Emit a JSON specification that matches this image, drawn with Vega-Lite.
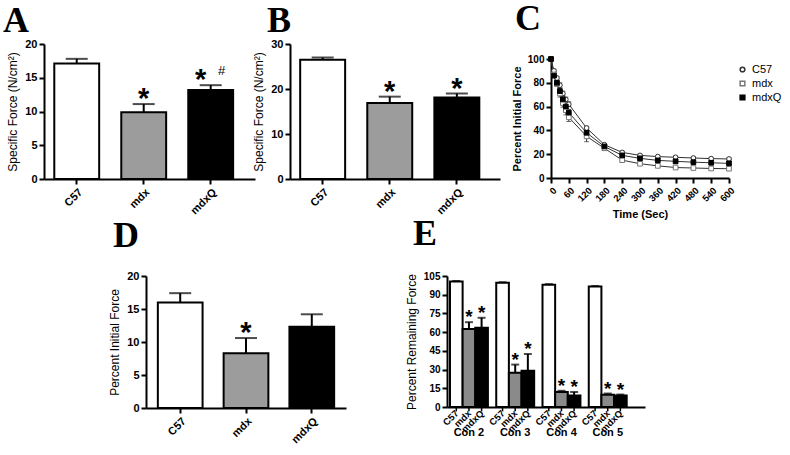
{
  "$schema": "https://vega.github.io/schema/vega-lite/v6.json",
  "padding": {"left": 3, "top": 1, "right": 5, "bottom": 0},
  "spacing": -5,
  "resolve": {"scale": {"fill": "independent", "shape": "independent", "stroke": "independent"}},
  "vconcat": [
    {
      "bounds": "flush",
      "spacing": 5,
      "resolve": {"scale": {"fill": "independent", "shape": "independent", "stroke": "independent"}},
      "hconcat": [
        {
          "width": 211, "height": 135,
          "title": {"text": "A", "dx": -41, "offset": -30, "baseline": "alphabetic"},
          "data": {"values": [
            {"g": "C57", "v": 17.1, "hi": 17.8, "star": ""},
            {"g": "mdx", "v": 9.9, "hi": 11.1, "star": "*"},
            {"g": "mdxQ", "v": 13.2, "hi": 13.9, "star": "*", "hash": "#"}
          ]},
          "encoding": {"x": {"field": "g", "type": "nominal", "sort": null, "scale": {"paddingInner": 0.33, "paddingOuter": 0.24, "align": 0.32}, "axis": {"title": null, "labelAngle": -45}}},
          "layer": [
            {"mark": {"type": "rule", "strokeWidth": 2, "color": "black"}, "encoding": {"y": {"field": "v", "type": "quantitative", "title": "Specific Force (N/cm²)", "axis": {"values": [0, 5, 10, 15, 20], "tickCount": 20, "labelOverlap": false}}, "y2": {"field": "hi"}}},
            {"mark": {"type": "tick", "thickness": 2, "size": 22, "color": "black"}, "encoding": {"y": {"field": "hi", "type": "quantitative", "title": "Specific Force (N/cm²)", "axis": {"values": [0, 5, 10, 15, 20], "tickCount": 20, "labelOverlap": false}}}},
            {"mark": {"type": "bar", "stroke": "black", "strokeWidth": 2}, "encoding": {
              "y": {"field": "v", "type": "quantitative", "title": "Specific Force (N/cm²)", "scale": {"domain": [0, 20], "nice": false}, "axis": {"values": [0, 5, 10, 15, 20], "tickCount": 20, "labelOverlap": false}},
              "fill": {"field": "g", "type": "nominal", "scale": {"domain": ["C57", "mdx", "mdxQ"], "range": ["white", "#9c9c9c", "black"]}, "legend": null}}},
            {"transform": [{"filter": "datum.hash == null"}], "mark": {"type": "text", "fontSize": 29, "fontWeight": "bold", "dy": 4, "baseline": "alphabetic"}, "encoding": {"y": {"field": "hi", "type": "quantitative", "title": "Specific Force (N/cm²)", "axis": {"values": [0, 5, 10, 15, 20], "tickCount": 20, "labelOverlap": false}}, "text": {"field": "star"}}},
            {"transform": [{"filter": "datum.hash != null"}], "mark": {"type": "text", "fontSize": 29, "fontWeight": "bold", "dy": 4, "dx": -10, "baseline": "alphabetic"}, "encoding": {"y": {"field": "hi", "type": "quantitative", "title": "Specific Force (N/cm²)", "axis": {"values": [0, 5, 10, 15, 20], "tickCount": 20, "labelOverlap": false}}, "text": {"field": "star"}}},
            {"transform": [{"filter": "datum.hash != null"}], "mark": {"type": "text", "fontSize": 13, "fontWeight": "normal", "dy": -10, "dx": 11, "baseline": "alphabetic", "color": "black"}, "encoding": {"y": {"field": "hi", "type": "quantitative", "title": "Specific Force (N/cm²)", "axis": {"values": [0, 5, 10, 15, 20], "tickCount": 20, "labelOverlap": false}}, "text": {"field": "hash"}}}
          ]
        },
        {"width": 25, "height": 5, "data": {"values": []}, "mark": "point", "encoding": {}},
        {
          "width": 210, "height": 135,
          "title": {"text": "B", "dx": -23, "offset": -30, "baseline": "alphabetic"},
          "data": {"values": [
            {"g": "C57", "v": 26.5, "hi": 27.0, "star": ""},
            {"g": "mdx", "v": 16.9, "hi": 18.3, "star": "*"},
            {"g": "mdxQ", "v": 18.1, "hi": 19.0, "star": "*"}
          ]},
          "encoding": {"x": {"field": "g", "type": "nominal", "sort": null, "scale": {"paddingInner": 0.33, "paddingOuter": 0.23, "align": 0.33}, "axis": {"title": null, "labelAngle": -45}}},
          "layer": [
            {"mark": {"type": "rule", "strokeWidth": 2, "color": "black"}, "encoding": {"y": {"field": "v", "type": "quantitative", "title": "Specific Force (N/cm²)", "axis": {"values": [0, 10, 20, 30], "tickCount": 20, "labelOverlap": false}}, "y2": {"field": "hi"}}},
            {"mark": {"type": "tick", "thickness": 2, "size": 22, "color": "black"}, "encoding": {"y": {"field": "hi", "type": "quantitative", "title": "Specific Force (N/cm²)", "axis": {"values": [0, 10, 20, 30], "tickCount": 20, "labelOverlap": false}}}},
            {"mark": {"type": "bar", "stroke": "black", "strokeWidth": 2}, "encoding": {
              "y": {"field": "v", "type": "quantitative", "title": "Specific Force (N/cm²)", "scale": {"domain": [0, 30], "nice": false}, "axis": {"values": [0, 10, 20, 30], "tickCount": 20, "labelOverlap": false}},
              "fill": {"field": "g", "type": "nominal", "scale": {"domain": ["C57", "mdx", "mdxQ"], "range": ["white", "#9c9c9c", "black"]}, "legend": null}}},
            {"mark": {"type": "text", "fontSize": 29, "fontWeight": "bold", "dy": 4, "baseline": "alphabetic"}, "encoding": {"y": {"field": "hi", "type": "quantitative", "title": "Specific Force (N/cm²)", "axis": {"values": [0, 10, 20, 30], "tickCount": 20, "labelOverlap": false}}, "text": {"field": "star"}}}
          ]
        },
        {"width": 41, "height": 5, "data": {"values": []}, "mark": "point", "encoding": {}},
        {
          "width": 178, "height": 134,
          "title": {"text": "C", "dx": -36, "offset": -22, "baseline": "alphabetic"},
          "data": {"values": [
            {"t": 0, "g": "C57", "v": 100, "e": 0.5}, {"t": 10, "g": "C57", "v": 90, "e": 1.5}, {"t": 20, "g": "C57", "v": 84, "e": 1.5}, {"t": 30, "g": "C57", "v": 78, "e": 2}, {"t": 40, "g": "C57", "v": 71, "e": 2}, {"t": 50, "g": "C57", "v": 66, "e": 2}, {"t": 60, "g": "C57", "v": 62, "e": 2}, {"t": 120, "g": "C57", "v": 42, "e": 1.5}, {"t": 180, "g": "C57", "v": 28, "e": 1}, {"t": 240, "g": "C57", "v": 21.5, "e": 1}, {"t": 300, "g": "C57", "v": 19, "e": 1}, {"t": 360, "g": "C57", "v": 18, "e": 1}, {"t": 420, "g": "C57", "v": 17.4, "e": 1}, {"t": 480, "g": "C57", "v": 16.8, "e": 1}, {"t": 540, "g": "C57", "v": 16.3, "e": 1}, {"t": 600, "g": "C57", "v": 16, "e": 1},
            {"t": 0, "g": "mdx", "v": 100, "e": 0.5}, {"t": 10, "g": "mdx", "v": 87, "e": 2}, {"t": 20, "g": "mdx", "v": 79, "e": 2}, {"t": 30, "g": "mdx", "v": 71, "e": 3}, {"t": 40, "g": "mdx", "v": 63, "e": 3.5}, {"t": 50, "g": "mdx", "v": 57, "e": 4}, {"t": 60, "g": "mdx", "v": 51, "e": 3.5}, {"t": 120, "g": "mdx", "v": 35, "e": 4.5}, {"t": 180, "g": "mdx", "v": 25, "e": 1.5}, {"t": 240, "g": "mdx", "v": 15, "e": 1.5}, {"t": 300, "g": "mdx", "v": 12, "e": 1}, {"t": 360, "g": "mdx", "v": 10.2, "e": 1}, {"t": 420, "g": "mdx", "v": 8.8, "e": 1}, {"t": 480, "g": "mdx", "v": 8.4, "e": 1}, {"t": 540, "g": "mdx", "v": 8, "e": 1}, {"t": 600, "g": "mdx", "v": 7.8, "e": 1},
            {"t": 0, "g": "mdxQ", "v": 100, "e": 0.5}, {"t": 10, "g": "mdxQ", "v": 86, "e": 1.5}, {"t": 20, "g": "mdxQ", "v": 80, "e": 2}, {"t": 30, "g": "mdxQ", "v": 73, "e": 2}, {"t": 40, "g": "mdxQ", "v": 66, "e": 3}, {"t": 50, "g": "mdxQ", "v": 60, "e": 3}, {"t": 60, "g": "mdxQ", "v": 55, "e": 2.5}, {"t": 120, "g": "mdxQ", "v": 38, "e": 2}, {"t": 180, "g": "mdxQ", "v": 26.5, "e": 1}, {"t": 240, "g": "mdxQ", "v": 19, "e": 1.5}, {"t": 300, "g": "mdxQ", "v": 16.5, "e": 1.5}, {"t": 360, "g": "mdxQ", "v": 14.8, "e": 1.5}, {"t": 420, "g": "mdxQ", "v": 14, "e": 1.5}, {"t": 480, "g": "mdxQ", "v": 13.3, "e": 1.5}, {"t": 540, "g": "mdxQ", "v": 12.8, "e": 1.5}, {"t": 600, "g": "mdxQ", "v": 12.3, "e": 1.5}
          ]},
          "encoding": {
            "x": {"field": "t", "type": "quantitative", "scale": {"domain": [0, 600], "nice": false}, "axis": {"values": [0, 60, 120, 180, 240, 300, 360, 420, 480, 540, 600], "tickCount": 20, "labelAngle": -45, "labelFontSize": 9.5, "labelOverlap": false, "title": "Time (Sec)", "titleFontWeight": "bold", "titleFontSize": 11, "titlePadding": 6}}
          },
          "layer": [
            {"mark": {"type": "errorbar", "color": "#333", "ticks": {"size": 5}}, "encoding": {"y": {"field": "v", "type": "quantitative", "title": "Percent Initial Force", "axis": {"values": [0, 20, 40, 60, 80, 100], "tickCount": 20, "labelOverlap": false, "labelFontSize": 10, "titleFontWeight": "bold", "titleFontSize": 11}}, "yError": {"field": "e"}}},
            {"mark": {"type": "line", "color": "#333", "strokeWidth": 1}, "encoding": {"y": {"field": "v", "type": "quantitative", "title": "Percent Initial Force", "axis": {"values": [0, 20, 40, 60, 80, 100], "tickCount": 20, "labelOverlap": false, "labelFontSize": 10, "titleFontWeight": "bold", "titleFontSize": 11}}, "detail": {"field": "g"}}},
            {"mark": {"type": "point", "size": 22, "opacity": 1, "strokeWidth": 1}, "encoding": {
              "y": {"field": "v", "type": "quantitative", "title": "Percent Initial Force", "scale": {"domain": [0, 100], "nice": false, "range": [134, 15]}, "axis": {"values": [0, 20, 40, 60, 80, 100], "tickCount": 20, "labelOverlap": false, "labelFontSize": 10, "titleFontWeight": "bold", "titleFontSize": 11}},
              "shape": {"field": "g", "type": "nominal", "title": "grp", "scale": {"domain": ["C57", "mdx", "mdxQ"], "range": ["circle", "square", "square"]}, "legend": {"orient": "none", "legendX": 186, "legendY": 20, "title": null, "labelFontSize": 11, "labelFontWeight": "normal", "symbolSize": 22, "rowPadding": 2}},
              "fill": {"field": "g", "type": "nominal", "title": "grp", "scale": {"domain": ["C57", "mdx", "mdxQ"], "range": ["white", "white", "black"]}, "legend": {"orient": "none", "legendX": 186, "legendY": 20, "title": null, "labelFontSize": 11, "labelFontWeight": "normal", "symbolSize": 22, "rowPadding": 2}},
              "stroke": {"field": "g", "type": "nominal", "title": "grp", "scale": {"domain": ["C57", "mdx", "mdxQ"], "range": ["#333333", "#777777", "black"]}, "legend": {"orient": "none", "legendX": 186, "legendY": 20, "title": null, "labelFontSize": 11, "labelFontWeight": "normal", "symbolSize": 22, "rowPadding": 2}}
            }}
          ]
        }
      ]
    },
    {
      "bounds": "flush",
      "spacing": 101,
      "resolve": {"scale": {"fill": "independent", "shape": "independent", "stroke": "independent"}},
      "hconcat": [
        {"width": 1, "height": 5, "data": {"values": []}, "mark": "point", "encoding": {}},
        {
          "width": 200, "height": 132,
          "title": {"text": "D", "dx": -33, "offset": -13, "baseline": "alphabetic"},
          "data": {"values": [
            {"g": "C57", "v": 16.0, "hi": 17.4, "star": ""},
            {"g": "mdx", "v": 8.3, "hi": 10.6, "star": "*"},
            {"g": "mdxQ", "v": 12.3, "hi": 14.2, "star": ""}
          ]},
          "encoding": {"x": {"field": "g", "type": "nominal", "sort": null, "scale": {"paddingInner": 0.32, "paddingOuter": 0.18, "align": 0.5}, "axis": {"title": null, "labelAngle": -45}}},
          "layer": [
            {"mark": {"type": "rule", "strokeWidth": 2, "color": "black"}, "encoding": {"y": {"field": "v", "type": "quantitative", "title": "Percent Initial Force", "axis": {"values": [0, 5, 10, 15, 20], "tickCount": 20, "labelOverlap": false}}, "y2": {"field": "hi"}}},
            {"mark": {"type": "tick", "thickness": 2, "size": 22, "color": "black"}, "encoding": {"y": {"field": "hi", "type": "quantitative", "title": "Percent Initial Force", "axis": {"values": [0, 5, 10, 15, 20], "tickCount": 20, "labelOverlap": false}}}},
            {"mark": {"type": "bar", "stroke": "black", "strokeWidth": 2}, "encoding": {
              "y": {"field": "v", "type": "quantitative", "title": "Percent Initial Force", "scale": {"domain": [0, 20], "nice": false}, "axis": {"values": [0, 5, 10, 15, 20], "tickCount": 20, "labelOverlap": false}},
              "fill": {"field": "g", "type": "nominal", "scale": {"domain": ["C57", "mdx", "mdxQ"], "range": ["white", "#9c9c9c", "black"]}, "legend": null}}},
            {"mark": {"type": "text", "fontSize": 29, "fontWeight": "bold", "dy": 4, "baseline": "alphabetic"}, "encoding": {"y": {"field": "hi", "type": "quantitative", "title": "Percent Initial Force", "axis": {"values": [0, 5, 10, 15, 20], "tickCount": 20, "labelOverlap": false}}, "text": {"field": "star"}}}
          ]
        },
        {
          "width": 198, "height": 131,
          "title": {"text": "E", "dx": -34, "offset": -14, "baseline": "alphabetic"},
          "data": {"values": [
            {"c": "Con 2", "g": "C57", "v": 100.5, "hi": 101, "star": ""},
            {"c": "Con 2", "g": "mdx", "v": 62.5, "hi": 68, "star": "*"},
            {"c": "Con 2", "g": "mdxQ", "v": 63.5, "hi": 71.5, "star": "*"},
            {"c": "Con 3", "g": "C57", "v": 99.5, "hi": 100, "star": ""},
            {"c": "Con 3", "g": "mdx", "v": 27.5, "hi": 34, "star": "*"},
            {"c": "Con 3", "g": "mdxQ", "v": 29, "hi": 42.5, "star": "*"},
            {"c": "Con 4", "g": "C57", "v": 98, "hi": 98.5, "star": ""},
            {"c": "Con 4", "g": "mdx", "v": 12, "hi": 13, "star": "*"},
            {"c": "Con 4", "g": "mdxQ", "v": 9.3, "hi": 12, "star": "*"},
            {"c": "Con 5", "g": "C57", "v": 96.5, "hi": 97, "star": ""},
            {"c": "Con 5", "g": "mdx", "v": 9.8, "hi": 10.8, "star": "*"},
            {"c": "Con 5", "g": "mdxQ", "v": 9.2, "hi": 10, "star": "*"}
          ]},
          "encoding": {
            "x": {"field": "c", "type": "nominal", "sort": null, "scale": {"paddingInner": 0.18, "paddingOuter": 0.23, "align": 0.14}, "axis": {"title": null, "labelAngle": 0, "ticks": false, "labelPadding": 19, "labelFontSize": 11}},
            "xOffset": {"field": "g", "type": "nominal", "sort": ["C57", "mdx", "mdxQ"], "scale": {"paddingInner": 0, "paddingOuter": 0}}
          },
          "layer": [
            {"mark": {"type": "rule", "strokeWidth": 2, "color": "black"}, "encoding": {"y": {"field": "v", "type": "quantitative", "title": "Percent Remaining Force", "axis": {"values": [0, 15, 30, 45, 60, 75, 90, 105], "tickCount": 20, "labelOverlap": false, "labelFontSize": 10}}, "y2": {"field": "hi"}}},
            {"mark": {"type": "tick", "thickness": 2, "size": 8, "color": "black"}, "encoding": {"y": {"field": "hi", "type": "quantitative", "title": "Percent Remaining Force", "axis": {"values": [0, 15, 30, 45, 60, 75, 90, 105], "tickCount": 20, "labelOverlap": false, "labelFontSize": 10}}}},
            {"mark": {"type": "bar", "stroke": "black", "strokeWidth": 2}, "encoding": {
              "y": {"field": "v", "type": "quantitative", "title": "Percent Remaining Force", "scale": {"domain": [0, 105], "nice": false}, "axis": {"values": [0, 15, 30, 45, 60, 75, 90, 105], "tickCount": 20, "labelOverlap": false, "labelFontSize": 10}},
              "fill": {"field": "g", "type": "nominal", "scale": {"domain": ["C57", "mdx", "mdxQ"], "range": ["white", "#8a8a8a", "black"]}, "legend": null}}},
            {"mark": {"type": "text", "fontSize": 19, "fontWeight": "bold", "dy": 1, "baseline": "alphabetic"}, "encoding": {"y": {"field": "hi", "type": "quantitative", "title": "Percent Remaining Force", "axis": {"values": [0, 15, 30, 45, 60, 75, 90, 105], "tickCount": 20, "labelOverlap": false, "labelFontSize": 10}}, "text": {"field": "star"}}},
            {"mark": {"type": "rule", "strokeWidth": 1.5, "color": "black"}, "encoding": {"y": {"datum": 0, "type": "quantitative", "title": "Percent Remaining Force", "axis": {"values": [0, 15, 30, 45, 60, 75, 90, 105], "tickCount": 20, "labelOverlap": false, "labelFontSize": 10}}, "y2": {"datum": -3.5}}},
            {"mark": {"type": "text", "angle": 315, "align": "right", "baseline": "middle", "fontSize": 9.5, "fontWeight": "bold", "dx": 1}, "encoding": {"y": {"datum": -4.5, "type": "quantitative", "title": "Percent Remaining Force", "axis": {"values": [0, 15, 30, 45, 60, 75, 90, 105], "tickCount": 20, "labelOverlap": false, "labelFontSize": 10}}, "text": {"field": "g"}}}
          ]
        }
      ]
    }
  ],
  "config": {
    "font": "Liberation Sans",
    "view": {"stroke": null},
    "axis": {"domainColor": "black", "domainWidth": 2, "tickColor": "black", "tickWidth": 2, "tickSize": 5, "labelColor": "black", "labelFont": "Liberation Sans", "labelFontWeight": "bold", "labelFontSize": 11, "titleFont": "Liberation Sans", "titleColor": "black", "titleFontWeight": "normal", "titleFontSize": 12, "grid": false, "labelPadding": 2, "titlePadding": 5, "labelOverlap": false},
    "axisY": {"tickCount": 20},
    "title": {"font": "Liberation Serif", "fontSize": 36, "fontWeight": "bold", "anchor": "start", "color": "black", "frame": "group"},
    "legend": {"labelFont": "Liberation Sans", "labelColor": "black"}
  }
}
